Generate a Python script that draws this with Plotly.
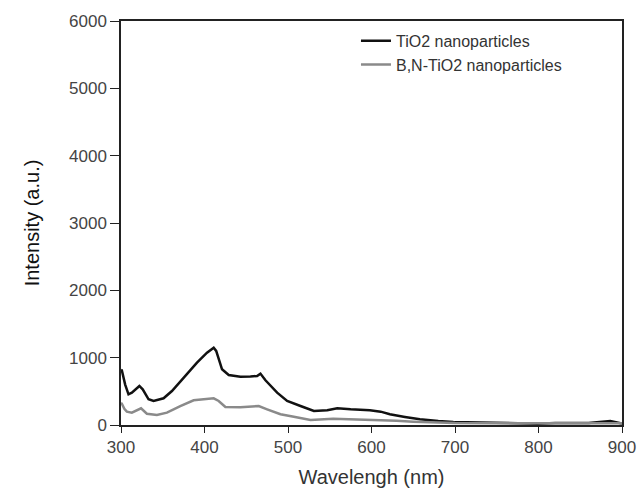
import plotly.graph_objects as go

tio2_x = [300, 301, 305, 309, 313, 318, 322, 326, 333, 339, 351, 361, 375, 391, 403, 411, 414, 421, 429, 443, 455, 463, 467, 473, 487, 499, 515, 531, 547, 559, 575, 598, 611, 622, 640, 658, 680, 698, 730, 758, 780, 799, 820, 839, 860, 886, 900]
tio2_y = [820, 812, 600, 456, 480, 540, 580, 530, 382, 357, 397, 505, 703, 926, 1074, 1149, 1100, 827, 743, 718, 722, 728, 763, 664, 480, 357, 282, 208, 218, 248, 233, 218, 198, 159, 120, 85, 60, 45, 38, 35, 28, 20, 30, 25, 30, 60, 20]

bn_x = [300, 301, 304, 307, 313, 318, 324, 331, 343, 355, 371, 387, 399, 411, 417, 425, 443, 455, 465, 475, 491, 507, 527, 554, 575, 595, 611, 630, 650, 680, 700, 750, 800, 850, 900]
bn_y = [330, 317, 240, 198, 183, 210, 248, 168, 149, 183, 282, 367, 382, 396, 357, 267, 262, 268, 282, 233, 159, 124, 74, 94, 88, 79, 74, 62, 50, 38, 30, 25, 20, 25, 25]

x_ticks = [300, 400, 500, 600, 700, 800, 900]
y_ticks = [0, 1000, 2000, 3000, 4000, 5000, 6000]

fig = go.Figure()
fig.add_trace(go.Scatter(x=tio2_x, y=tio2_y, mode="lines", name="TiO2 nanoparticles",
                         line=dict(color="#111111", width=2.5)))
fig.add_trace(go.Scatter(x=bn_x, y=bn_y, mode="lines", name="B,N-TiO2 nanoparticles",
                         line=dict(color="#8a8a8a", width=2.5)))

font_fam = "Liberation Sans, Arial, sans-serif"
fig.update_layout(
    width=639, height=495,
    margin=dict(l=121, r=17, t=21, b=70),
    paper_bgcolor="white", plot_bgcolor="white",
    font=dict(family=font_fam, size=17, color="#444444"),
    showlegend=True,
    legend=dict(x=0.469, y=0.993, xanchor="left", yanchor="top",
                bgcolor="rgba(0,0,0,0)", font=dict(size=16, color="#333333"),
                tracegroupgap=0, itemwidth=30),
)
fig.update_xaxes(range=[300, 900], tickvals=x_ticks, ticks="outside", ticklen=6,
                 tickcolor="#222", showline=True, linecolor="#222", linewidth=1.5,
                 mirror=True, showgrid=False, zeroline=False, automargin=False,
                 title=dict(text="Wavelengh (nm)", font=dict(size=20, color="#333333"), standoff=14))
fig.update_yaxes(range=[0, 6000], tickvals=y_ticks, ticks="outside", ticklen=9,
                 tickcolor="#222", showline=True, linecolor="#222", linewidth=1.5,
                 mirror=True, showgrid=False, zeroline=False, automargin=False,
                 title=dict(text="Intensity (a.u.)", font=dict(size=20, color="#111111"), standoff=24))

fig.write_html("out.html")
